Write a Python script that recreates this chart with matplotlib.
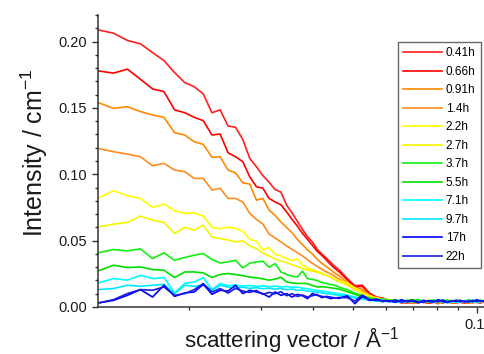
import matplotlib
matplotlib.use("Agg")
import matplotlib.pyplot as plt
import matplotlib.transforms as mtransforms
from matplotlib.ticker import FixedLocator, FixedFormatter, MultipleLocator, NullFormatter

# scattering vector grid (1/Angstrom)
q = [0.01205, 0.01312, 0.01419, 0.01526, 0.01633, 0.01740, 0.01847, 0.01954, 0.02061, 0.02168,
     0.02275, 0.02382, 0.02489, 0.02596, 0.02703, 0.02810, 0.02917, 0.03024, 0.03131, 0.03238,
     0.03345, 0.03452, 0.03559, 0.03666, 0.03773, 0.03880, 0.03987, 0.04094, 0.04201, 0.04308,
     0.04415, 0.04522, 0.04629,
     0.04843, 0.05057, 0.05271, 0.05485, 0.05699, 0.05913, 0.06127, 0.06341, 0.06555, 0.06769,
     0.06983, 0.07197, 0.07411, 0.07625, 0.07839, 0.08053, 0.08267, 0.08481, 0.08695, 0.08909,
     0.09123, 0.09337, 0.09551, 0.09765, 0.09979, 0.10193, 0.10407]

labels = ["0.41h", "0.66h", "0.91h", "1.4h", "2.2h", "2.7h",
          "3.7h", "5.5h", "7.1h", "9.7h", "17h", "22h"]

i_041 = [0.2088, 0.2063, 0.2008, 0.1983, 0.1917, 0.1857, 0.1766, 0.1691, 0.1660, 0.1605, 0.1464, 0.1485,
         0.1364, 0.1354, 0.1263, 0.1120, 0.1057, 0.0990, 0.0940, 0.0885, 0.0865, 0.0768,
         0.0710, 0.0645, 0.0585, 0.0530, 0.0490, 0.0435, 0.0400, 0.0370, 0.0335, 0.0305, 0.0280,
         0.0215, 0.0160, 0.0165, 0.0105, 0.0075, 0.0068, 0.0050, 0.0045, 0.0030, 0.0042,
         0.0028, 0.0045, 0.0035, 0.0030, 0.0040, 0.0025, 0.0045, 0.0038, 0.0030, 0.0042,
         0.0035, 0.0028, 0.0040, 0.0032, 0.0045, 0.0035, 0.0040]
i_066 = [0.1779, 0.1762, 0.1792, 0.1716, 0.1643, 0.1623, 0.1485, 0.1464, 0.1429, 0.1404, 0.1296, 0.1303,
         0.1162, 0.1132, 0.1095, 0.0981, 0.0906, 0.0895, 0.0818, 0.0792, 0.0770, 0.0717,
         0.0660, 0.0610, 0.0555, 0.0510, 0.0465, 0.0420, 0.0390, 0.0355, 0.0320, 0.0290, 0.0265,
         0.0205, 0.0150, 0.0155, 0.0100, 0.0070, 0.0060, 0.0045, 0.0040, 0.0035, 0.0030,
         0.0040, 0.0032, 0.0042, 0.0028, 0.0035, 0.0040, 0.0030, 0.0045, 0.0035, 0.0028,
         0.0040, 0.0038, 0.0030, 0.0042, 0.0035, 0.0030, 0.0040]
i_091 = [0.1540, 0.1497, 0.1509, 0.1472, 0.1447, 0.1429, 0.1313, 0.1296, 0.1245, 0.1225, 0.1128, 0.1132,
         0.1032, 0.1011, 0.0936, 0.0926, 0.0805, 0.0818, 0.0730, 0.0690, 0.0640, 0.0600,
         0.0560, 0.0510, 0.0470, 0.0430, 0.0400, 0.0360, 0.0330, 0.0305, 0.0280, 0.0255, 0.0235,
         0.0185, 0.0140, 0.0135, 0.0090, 0.0065, 0.0058, 0.0048, 0.0040, 0.0045, 0.0035,
         0.0030, 0.0042, 0.0038, 0.0032, 0.0045, 0.0030, 0.0038, 0.0042, 0.0035, 0.0030,
         0.0045, 0.0035, 0.0040, 0.0030, 0.0038, 0.0045, 0.0035]
i_14 = [0.1195, 0.1170, 0.1152, 0.1132, 0.1064, 0.1082, 0.1032, 0.1019, 0.0969, 0.0969, 0.0881, 0.0894,
        0.0818, 0.0818, 0.0792, 0.0705, 0.0660, 0.0625, 0.0550, 0.0520, 0.0490, 0.0460,
        0.0435, 0.0410, 0.0385, 0.0355, 0.0330, 0.0305, 0.0285, 0.0265, 0.0250, 0.0230, 0.0210,
        0.0170, 0.0130, 0.0120, 0.0085, 0.0062, 0.0055, 0.0050, 0.0042, 0.0038, 0.0045,
        0.0035, 0.0030, 0.0040, 0.0045, 0.0035, 0.0032, 0.0042, 0.0038, 0.0030, 0.0045,
        0.0040, 0.0035, 0.0030, 0.0042, 0.0038, 0.0035, 0.0045]
i_22 = [0.0818, 0.0876, 0.0838, 0.0818, 0.0750, 0.0775, 0.0725, 0.0705, 0.0709, 0.0685, 0.0600, 0.0590,
        0.0600, 0.0592, 0.0570, 0.0510, 0.0495, 0.0430, 0.0448, 0.0395, 0.0385, 0.0365,
        0.0350, 0.0362, 0.0318, 0.0295, 0.0280, 0.0268, 0.0255, 0.0240, 0.0226, 0.0210, 0.0198,
        0.0180, 0.0145, 0.0110, 0.0085, 0.0070, 0.0060, 0.0055, 0.0045, 0.0050, 0.0040,
        0.0048, 0.0035, 0.0042, 0.0050, 0.0038, 0.0045, 0.0035, 0.0042, 0.0050, 0.0038,
        0.0045, 0.0040, 0.0048, 0.0035, 0.0042, 0.0045, 0.0038]
i_27 = [0.0604, 0.0624, 0.0637, 0.0685, 0.0654, 0.0637, 0.0554, 0.0600, 0.0579, 0.0617, 0.0528, 0.0516,
        0.0505, 0.0490, 0.0498, 0.0460, 0.0440, 0.0405, 0.0385, 0.0362, 0.0345, 0.0335,
        0.0318, 0.0305, 0.0290, 0.0280, 0.0270, 0.0262, 0.0250, 0.0238, 0.0224, 0.0205, 0.0190,
        0.0165, 0.0135, 0.0100, 0.0080, 0.0065, 0.0058, 0.0050, 0.0048, 0.0040, 0.0052,
        0.0042, 0.0038, 0.0050, 0.0045, 0.0040, 0.0048, 0.0038, 0.0045, 0.0042, 0.0050,
        0.0040, 0.0045, 0.0038, 0.0048, 0.0042, 0.0040, 0.0050]
i_37 = [0.0408, 0.0433, 0.0423, 0.0438, 0.0365, 0.0408, 0.0352, 0.0373, 0.0390, 0.0403, 0.0358, 0.0332,
        0.0340, 0.0352, 0.0295, 0.0330, 0.0340, 0.0345, 0.0300, 0.0327, 0.0264, 0.0245,
        0.0232, 0.0226, 0.0270, 0.0214, 0.0208, 0.0200, 0.0185, 0.0177, 0.0170, 0.0164, 0.0150,
        0.0130, 0.0105, 0.0085, 0.0070, 0.0055, 0.0060, 0.0048, 0.0055, 0.0042, 0.0050,
        0.0045, 0.0058, 0.0040, 0.0048, 0.0052, 0.0042, 0.0055, 0.0045, 0.0040, 0.0052,
        0.0048, 0.0042, 0.0055, 0.0045, 0.0050, 0.0042, 0.0048]
i_55 = [0.0272, 0.0315, 0.0297, 0.0302, 0.0282, 0.0277, 0.0222, 0.0264, 0.0264, 0.0257, 0.0222, 0.0245,
        0.0252, 0.0245, 0.0236, 0.0226, 0.0220, 0.0212, 0.0202, 0.0210, 0.0224, 0.0189,
        0.0182, 0.0177, 0.0178, 0.0176, 0.0162, 0.0151, 0.0152, 0.0150, 0.0145, 0.0140, 0.0135,
        0.0115, 0.0095, 0.0075, 0.0062, 0.0050, 0.0055, 0.0045, 0.0050, 0.0040, 0.0048,
        0.0055, 0.0042, 0.0046, 0.0038, 0.0050, 0.0045, 0.0040, 0.0052, 0.0044, 0.0038,
        0.0048, 0.0042, 0.0050, 0.0040, 0.0046, 0.0052, 0.0042]
i_71 = [0.0181, 0.0214, 0.0202, 0.0239, 0.0214, 0.0222, 0.0106, 0.0177, 0.0189, 0.0222, 0.0131, 0.0177,
        0.0160, 0.0165, 0.0158, 0.0162, 0.0155, 0.0160, 0.0152, 0.0158, 0.0150, 0.0155,
        0.0148, 0.0150, 0.0142, 0.0138, 0.0130, 0.0125, 0.0120, 0.0115, 0.0110, 0.0105, 0.0100,
        0.0090, 0.0075, 0.0065, 0.0055, 0.0048, 0.0052, 0.0040, 0.0046, 0.0035, 0.0050,
        0.0042, 0.0038, 0.0048, 0.0040, 0.0035, 0.0045, 0.0050, 0.0038, 0.0042, 0.0035,
        0.0048, 0.0040, 0.0045, 0.0052, 0.0038, 0.0042, 0.0046]
i_97 = [0.0131, 0.0139, 0.0164, 0.0156, 0.0164, 0.0171, 0.0101, 0.0164, 0.0156, 0.0164, 0.0126, 0.0164,
        0.0150, 0.0145, 0.0150, 0.0140, 0.0146, 0.0138, 0.0142, 0.0135, 0.0140, 0.0130,
        0.0135, 0.0125, 0.0128, 0.0120, 0.0115, 0.0112, 0.0108, 0.0100, 0.0098, 0.0092, 0.0088,
        0.0080, 0.0068, 0.0060, 0.0050, 0.0045, 0.0040, 0.0048, 0.0035, 0.0042, 0.0038,
        0.0045, 0.0032, 0.0040, 0.0046, 0.0035, 0.0042, 0.0038, 0.0030, 0.0044, 0.0040,
        0.0035, 0.0048, 0.0038, 0.0042, 0.0034, 0.0046, 0.0040]
i_17 = [0.0030, 0.0050, 0.0088, 0.0131, 0.0075, 0.0164, 0.0080, 0.0106, 0.0113, 0.0171, 0.0096, 0.0126,
        0.0120, 0.0164, 0.0101, 0.0126, 0.0113, 0.0101, 0.0075, 0.0113, 0.0088, 0.0101,
        0.0075, 0.0095, 0.0085, 0.0063, 0.0101, 0.0088, 0.0080, 0.0075, 0.0063, 0.0070, 0.0065,
        0.0085, 0.0025, 0.0080, 0.0050, 0.0060, 0.0042, 0.0048, 0.0035, 0.0055, 0.0040,
        0.0045, 0.0032, 0.0050, 0.0042, 0.0038, 0.0055, 0.0040, 0.0035, 0.0048, 0.0042,
        0.0050, 0.0038, 0.0045, 0.0040, 0.0055, 0.0042, 0.0048]
i_22h = [0.0030, 0.0055, 0.0101, 0.0131, 0.0126, 0.0151, 0.0088, 0.0101, 0.0131, 0.0177, 0.0113, 0.0139,
         0.0105, 0.0140, 0.0120, 0.0110, 0.0125, 0.0095, 0.0110, 0.0100, 0.0115, 0.0085,
         0.0100, 0.0080, 0.0090, 0.0075, 0.0085, 0.0095, 0.0070, 0.0080, 0.0075, 0.0068, 0.0072,
         0.0070, 0.0045, 0.0090, 0.0055, 0.0050, 0.0048, 0.0040, 0.0052, 0.0038, 0.0045,
         0.0050, 0.0040, 0.0035, 0.0048, 0.0045, 0.0040, 0.0052, 0.0038, 0.0045, 0.0050,
         0.0040, 0.0045, 0.0038, 0.0050, 0.0042, 0.0046, 0.0040]

series = [i_041, i_066, i_091, i_14, i_22, i_27, i_37, i_55, i_71, i_97, i_17, i_22h]
colors = ["#ff2020", "#ff0000", "#ff8a00", "#ff8c1e", "#ffff00", "#f5f500",
          "#10f010", "#00e000", "#00ffff", "#00e8ff", "#0000ff", "#1a1ae0"]

plt.rcParams['font.family'] = ['Liberation Sans', 'DejaVu Sans']
plt.rcParams['mathtext.fontset'] = 'custom'
plt.rcParams['mathtext.rm'] = 'Liberation Sans'
plt.rcParams['mathtext.it'] = 'Liberation Sans'
plt.rcParams['mathtext.default'] = 'regular'

fig = plt.figure(figsize=(4.84, 3.54), dpi=100)
ax = fig.add_axes([98 / 484, 47 / 354, 386 / 484, 292 / 354])

for lab, vals, col in zip(labels, series, colors):
    n = min(len(q), len(vals))
    ax.plot(q[:n], vals[:n], color=col, lw=1.2, label=lab)

ax.set_xscale('log')
ax.set_xlim(0.01204, 0.1040)
ax.set_ylim(0.0, 0.22)

ax.xaxis.set_major_locator(FixedLocator([0.1]))
ax.xaxis.set_major_formatter(FixedFormatter(["0.1"]))
ax.xaxis.set_minor_locator(FixedLocator([0.02, 0.03, 0.04, 0.05, 0.06, 0.07, 0.08, 0.09]))
ax.xaxis.set_minor_formatter(NullFormatter())

ax.yaxis.set_major_locator(MultipleLocator(0.05))
ax.yaxis.set_minor_locator(MultipleLocator(0.01))
ax.yaxis.set_major_formatter(matplotlib.ticker.FormatStrFormatter('%.2f'))

for s in ['top', 'right']:
    ax.spines[s].set_visible(False)
for s in ['left', 'bottom']:
    ax.spines[s].set_color('#333333')
    ax.spines[s].set_linewidth(1.1)

ax.tick_params(which='major', direction='out', length=4, width=1.0, color='#333333',
               labelsize=10.5, labelcolor='#1a1a1a', pad=4)
ax.tick_params(which='minor', direction='out', length=2.5, width=1.0, color='#333333')

# nudge the "0.1" label slightly left so it stays inside the canvas
shift = mtransforms.ScaledTranslation(-2 / 72, 0, fig.dpi_scale_trans)
for lbl in ax.get_xticklabels():
    lbl.set_transform(lbl.get_transform() + shift)

ax.set_xlabel("scattering vector / Å$^{-1}$", fontsize=16, color='#1a1a1a', va='baseline')
ax.xaxis.set_label_coords((292 - 98) / 386, (307 - 348) / 292)
ax.set_ylabel("Intensity / cm$^{-1}$", fontsize=18, color='#1a1a1a', va='center')
ax.yaxis.set_label_coords((34 - 98) / 386, (307 - 153) / 292)

leg = ax.legend(loc='upper left', bbox_to_anchor=(0.777, 0.9075), fontsize=8.5,
                frameon=True, fancybox=False, borderpad=0.45, labelspacing=0.55,
                handlelength=3.3, handletextpad=0.3, borderaxespad=0)
leg.get_frame().set_edgecolor('#444444')
leg.get_frame().set_linewidth(1.0)

fig.savefig("out.png", dpi=100)
